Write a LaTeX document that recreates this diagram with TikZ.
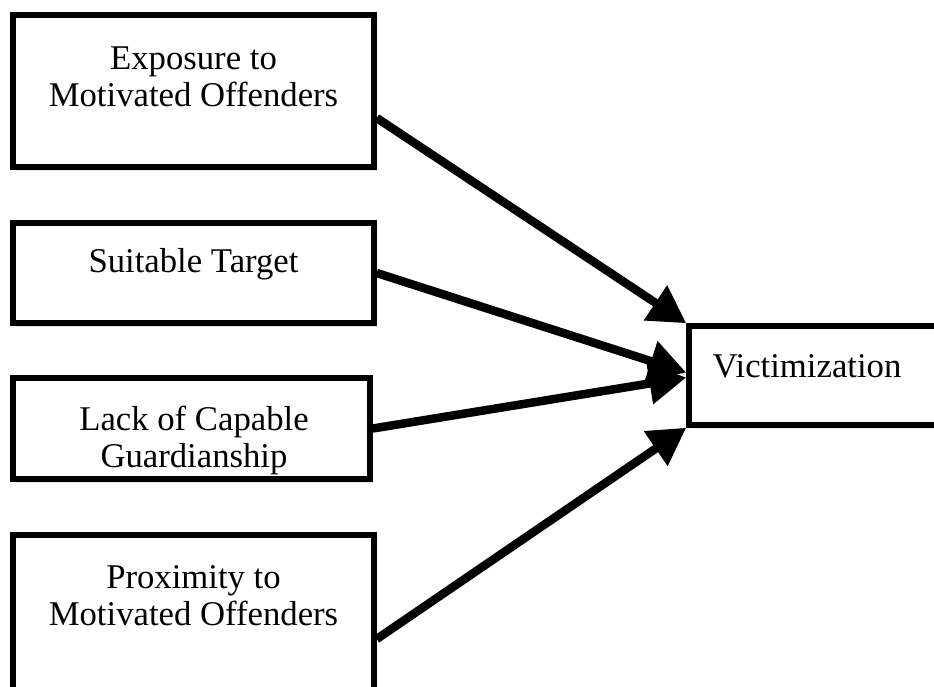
\documentclass[tikz,border=0pt]{standalone}
\usepackage{fontspec}
\setmainfont{Liberation Serif}
\usetikzlibrary{arrows.meta,shadows}
\tikzset{
  factor/.style={draw, line width=5.5pt, fill=white, inner sep=0pt, minimum width=361pt,
    drop shadow={shadow xshift=3pt, shadow yshift=-4pt, opacity=0.2}},
  caption/.style={align=center, inner sep=0pt, font=\fontsize{34.7}{37}\selectfont},
  link/.style={line width=8.5pt, -{Triangle[length=37pt,width=40pt]}}
}
\begin{document}
\begin{tikzpicture}[x=1pt,y=-1pt]
\useasboundingbox (0,0) rectangle (934,686);
%Factors
\node[factor, minimum height=152pt] (exposure) at (193.5,91) {};
\node[factor, minimum height=100pt] (target) at (193.5,273) {};
\node[factor, minimum width=357pt, minimum height=101pt] (guard) at (191.5,428.5) {};
\node[factor, minimum height=170pt] (proximity) at (193.5,620) {};
\node[caption, anchor=north] (exposuretxt) at (193.5,47) {Exposure to\\Motivated Offenders};
\node[caption, anchor=base] (targettxt) at (193.5,272) {Suitable Target};
\node[caption, anchor=north] (guardtxt) at (194,406) {Lack of Capable\\Guardianship};
\node[caption, anchor=north] (proximitytxt) at (193.5,565) {Proximity to\\Motivated Offenders};

%Outcome
\node[factor, minimum width=260pt, minimum height=99pt] (victim) at (819,375.5) {};
\node[caption, anchor=base] (victimtxt) at (807,377) {Victimization};

\draw[link] ([yshift=-27pt]exposure.east) -- (victim.north west);
\draw[link] (target.east) -- ([yshift=3pt]victim.west);
\draw[link] (guard.east) -- ([yshift=-2pt]victim.west);
\draw[link] ([yshift=-19pt]proximity.east) -- (victim.south west);
\end{tikzpicture}
\end{document}
